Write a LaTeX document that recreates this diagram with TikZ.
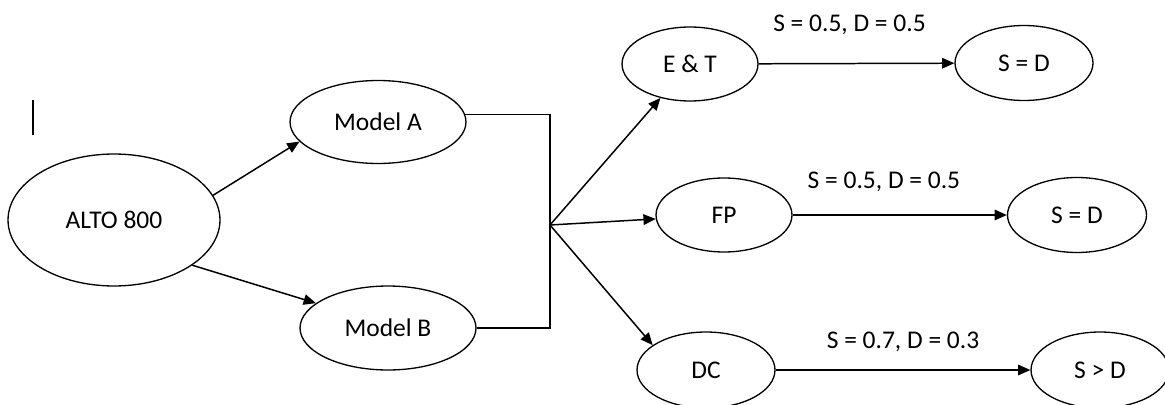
\documentclass[tikz,border=0pt]{standalone}
\usepackage{fontspec}
\setmainfont{Carlito}
\usetikzlibrary{arrows.meta, shapes.geometric}

\begin{document}
\begin{tikzpicture}[x=0.02cm, y=-0.02cm,
    oval/.style={draw, ellipse, inner sep=0pt, line width=0.75pt,
                 font=\fontsize{14.5}{17}\selectfont},
    link/.style={-{Triangle[length=7pt,width=6pt]}, line width=0.85pt},
    lbl/.style={font=\fontsize{14.5}{17}\selectfont}]
  \useasboundingbox (0,0) rectangle (1165,405);
  \draw[line width=1.6pt] (33,100) -- (33,135);
  \node[oval, minimum width=4.24cm, minimum height=2.64cm] (alto) at (114,220) {ALTO 800};
  \node[oval, minimum width=3.52cm, minimum height=1.66cm] (moda) at (378,122) {Model A};
  \node[oval, minimum width=3.52cm, minimum height=1.68cm] (modb) at (388,328) {Model B};
  \node[oval, minimum width=2.72cm, minimum height=1.48cm] (et) at (690,64) {E \& T};
  \node[oval, minimum width=2.72cm, minimum height=1.48cm] (fp) at (724,215) {FP};
  \node[oval, minimum width=2.76cm, minimum height=1.52cm] (dc) at (706,370) {DC};
  \node[oval, minimum width=2.76cm, minimum height=1.5cm] (sdet) at (1024,63) {S = D};
  \node[oval, minimum width=2.78cm, minimum height=1.5cm] (sdfp) at (1077,215) {S = D};
  \node[oval, minimum width=2.76cm, minimum height=1.52cm] (sgdc) at (1100,370) {S > D};
  \coordinate (join) at (550,225);
  % models
  \draw[link] (alto.14) -- (moda.194);
  \draw[link] (alto.330) -- (modb.161);
  \draw[line width=0.85pt] (moda.5) -| (join);
  \draw[line width=0.85pt] (modb.east) -| (join);
  % factors
  \draw[link] (join) -- (et);
  \draw[link] (join) -- (fp);
  \draw[link] (join) -- (dc.155);
  % outcomes
  \draw[link] (et) -- node[lbl, yshift=22pt, xshift=-4pt] {S = 0.5, D = 0.5} (sdet);
  \draw[link] (fp) -- node[lbl, yshift=19pt, xshift=-9pt] {S = 0.5, D = 0.5} (sdfp);
  \draw[link] (dc) -- node[lbl, yshift=16pt] {S = 0.7, D = 0.3} (sgdc);
\end{tikzpicture}
\end{document}
